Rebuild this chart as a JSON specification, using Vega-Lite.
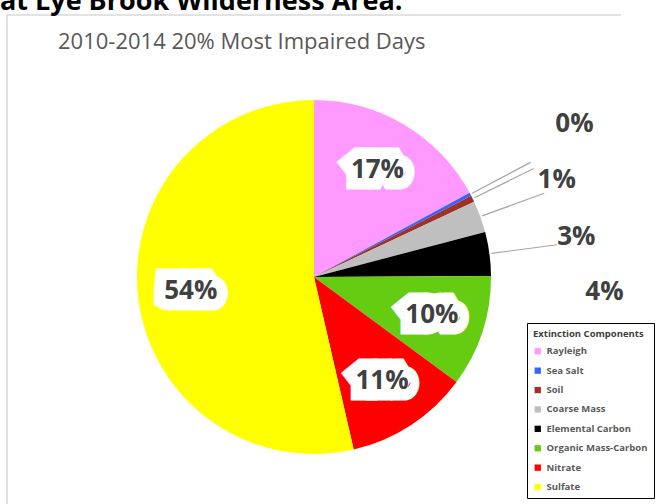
{
  "$schema": "https://vega.github.io/schema/vega-lite/v6.json",
  "padding": {"left": 0, "top": -12, "right": 0, "bottom": -33},
  "title": {
    "text": "at Lye Brook Wilderness Area.",
    "anchor": "start",
    "frame": "group",
    "dx": -7,
    "offset": -23,
    "baseline": "alphabetic",
    "font": "Open Sans",
    "fontSize": 27,
    "fontWeight": "bold",
    "color": "#000000"
  },
  "vconcat": [
    {
      "width": 614,
      "height": 524,
      "view": {"stroke": "#D9D9D9", "strokeWidth": 1.5, "strokeDash": [614, 1138, 524]},
      "title": {
        "text": "2010-2014 20% Most Impaired Days",
        "anchor": "start",
        "frame": "group",
        "dx": 51,
        "offset": -56,
        "baseline": "alphabetic",
        "font": "Open Sans",
        "fontSize": 22,
        "fontWeight": "normal",
        "color": "#595959"
      },
      "data": {
        "values": [
          {"component": "Rayleigh", "share": 0.171, "idx": 1},
          {"component": "Sea Salt", "share": 0.003, "idx": 2},
          {"component": "Soil", "share": 0.006, "idx": 3},
          {"component": "Coarse Mass", "share": 0.029, "idx": 4},
          {"component": "Elemental Carbon", "share": 0.040, "idx": 5},
          {"component": "Organic Mass-Carbon", "share": 0.102, "idx": 6},
          {"component": "Nitrate", "share": 0.113, "idx": 7},
          {"component": "Sulfate", "share": 0.536, "idx": 8}
        ]
      },
      "encoding": {
        "theta": {"field": "share", "type": "quantitative", "stack": true},
        "order": {"field": "idx", "type": "quantitative"},
        "detail": {"field": "component", "type": "nominal"}
      },
      "layer": [
        {
          "mark": {"type": "arc", "radius": 177},
          "encoding": {
            "color": {
              "field": "component",
              "type": "nominal",
              "scale": {
                "domain": ["Rayleigh", "Sea Salt", "Soil", "Coarse Mass", "Elemental Carbon", "Organic Mass-Carbon", "Nitrate", "Sulfate"],
                "range": ["#FF99FF", "#3366FF", "#A0302A", "#BFBFBF", "#000000", "#66CC11", "#FF0000", "#FFFF00"]
              },
              "legend": {
                "title": "Extinction Components",
                "orient": "none",
                "legendX": 520,
                "legendY": 308,
                "titleFont": "Open Sans",
                "titleFontSize": 9.5,
                "titleFontWeight": "bold",
                "titleColor": "#404040",
                "titlePadding": 8,
                "labelFont": "Open Sans",
                "labelFontSize": 9.5,
                "labelFontWeight": "bold",
                "labelColor": "#595959",
                "symbolType": "square",
                "symbolSize": 40,
                "symbolStrokeWidth": 0,
                "rowPadding": 8.4,
                "padding": 6,
                "strokeColor": "#000000",
                "fillColor": "#FFFFFF"
              }
            }
          }
        },
        {
          "mark": {"type": "arc", "radius": 245, "radius2": 179, "padAngle": 0.5, "fill": "#FFFFFF", "fillOpacity": 0, "stroke": "#A6A6A6", "strokeWidth": 1.2},
          "encoding": {
            "strokeOpacity": {"condition": {"test": "datum.share < 0.05", "value": 1}, "value": 0}
          }
        },
        {
          "mark": {"type": "text", "radius": 124, "font": "Open Sans", "fontSize": 26, "fontWeight": "bold", "fill": "#FFFFFF", "stroke": "#FFFFFF", "strokeWidth": 23, "strokeJoin": "miter", "strokeMiterLimit": 1.5},
          "encoding": {
            "text": {"condition": {"test": "datum.share >= 0.05", "field": "share", "type": "quantitative", "format": ".0%"}, "value": ""}
          }
        },
        {
          "mark": {"type": "text", "radius": 124, "font": "Open Sans", "fontSize": 26, "fontWeight": "bold", "fill": "#404040"},
          "encoding": {
            "text": {"condition": {"test": "datum.share >= 0.05", "field": "share", "type": "quantitative", "format": ".0%"}, "value": ""}
          }
        },
        {
          "mark": {"type": "text", "radius": 177, "dx": 104, "dy": -70, "font": "Open Sans", "fontSize": 26, "fontWeight": "bold", "fill": "#404040"},
          "encoding": {
            "text": {"condition": {"test": "datum.component === 'Sea Salt'", "field": "share", "type": "quantitative", "format": ".0%"}, "value": ""}
          }
        },
        {
          "mark": {"type": "text", "radius": 177, "dx": 84, "dy": -19, "font": "Open Sans", "fontSize": 26, "fontWeight": "bold", "fill": "#404040"},
          "encoding": {
            "text": {"condition": {"test": "datum.component === 'Soil'", "field": "share", "type": "quantitative", "format": ".0%"}, "value": ""}
          }
        },
        {
          "mark": {"type": "text", "radius": 177, "dx": 96, "dy": 20, "font": "Open Sans", "fontSize": 26, "fontWeight": "bold", "fill": "#404040"},
          "encoding": {
            "text": {"condition": {"test": "datum.component === 'Coarse Mass'", "field": "share", "type": "quantitative", "format": ".0%"}, "value": ""}
          }
        },
        {
          "mark": {"type": "text", "radius": 177, "dx": 115, "dy": 38, "font": "Open Sans", "fontSize": 26, "fontWeight": "bold", "fill": "#404040"},
          "encoding": {
            "text": {"condition": {"test": "datum.component === 'Elemental Carbon'", "field": "share", "type": "quantitative", "format": ".0%"}, "value": ""}
          }
        }
      ]
    }
  ],
  "config": {
    "background": "#FFFFFF",
    "view": {"stroke": "#D9D9D9", "strokeWidth": 1.5, "strokeDash": [614, 1138, 524]}
  }
}
